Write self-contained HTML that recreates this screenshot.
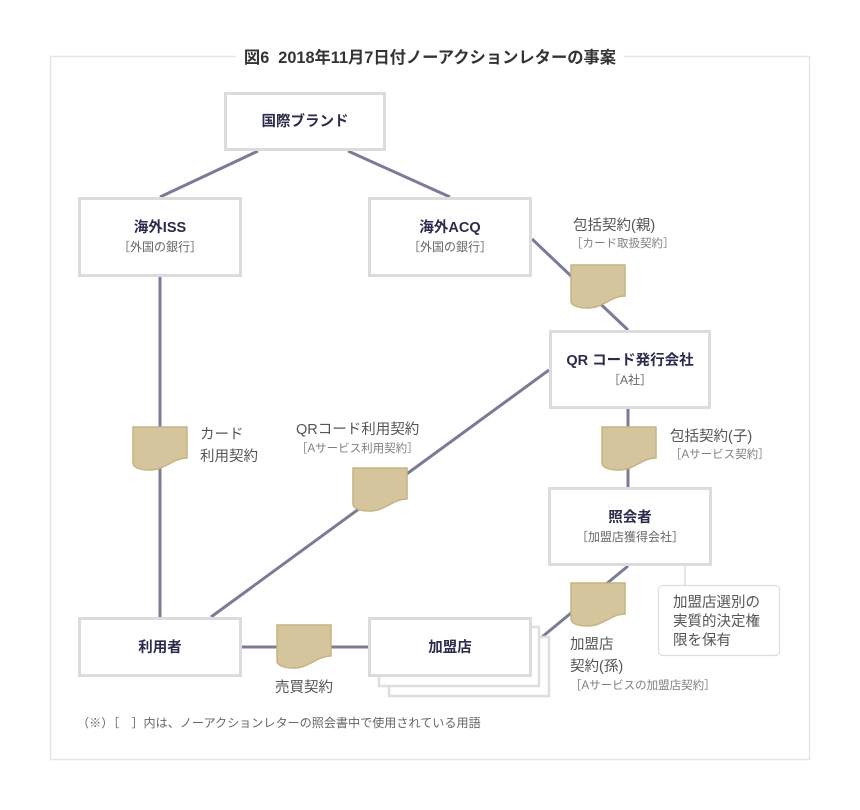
<!DOCTYPE html>
<html>
<head>
<meta charset="utf-8">
<style>
  html,body{margin:0;padding:0;background:#fff;}
  svg{display:block;}
  text{font-family:"Liberation Sans","Noto Sans CJK JP",sans-serif;}
  .bt{font-size:14.5px;font-weight:bold;fill:#2b2b4b;}
  .st{font-size:12px;fill:#666;}
  .lb{font-size:14.5px;fill:#555;}
  .ls{font-size:11.5px;fill:#808080;}
</style>
</head>
<body>
<svg width="860" height="810" viewBox="0 0 860 810" xmlns="http://www.w3.org/2000/svg">
  <defs>
    <g id="doc">
      <path d="M0,0 H54 V31 C46,31 40,35 34,38 C28,41 24,43 16,43 C6,43 0,40 0,36 Z" fill="#d4c59d" stroke="#c6b381" stroke-width="1.5"/>
    </g>
  </defs>

  <!-- outer frame -->
  <rect x="50.5" y="56.5" width="759" height="703" fill="none" stroke="#e6e6e6" stroke-width="1.5"/>
  <rect x="236" y="44" width="388" height="26" fill="#fff"/>
  <text x="430" y="58" text-anchor="middle" dominant-baseline="central" style="font-size:16.3px;font-weight:bold;fill:#333;">図6&#160;&#160;2018年11月7日付ノーアクションレターの事案</text>

  <!-- connector lines -->
  <g stroke="#7b7b98" stroke-width="3" fill="none">
    <line x1="258" y1="151" x2="160" y2="197"/>
    <line x1="348" y1="151" x2="450" y2="197"/>
    <line x1="160" y1="277" x2="160" y2="617"/>
    <line x1="532" y1="239" x2="628" y2="330"/>
    <line x1="549" y1="370" x2="211" y2="617"/>
    <line x1="628" y1="409" x2="628" y2="487"/>
    <line x1="628" y1="566" x2="542" y2="637"/>
    <line x1="242" y1="647" x2="368" y2="647"/>
  </g>

  <!-- callout connector -->
  <line x1="685" y1="566" x2="685" y2="585" stroke="#dddddd" stroke-width="1.5"/>
  <rect x="658.5" y="585.5" width="121" height="70" rx="4" fill="#fff" stroke="#dddddd" stroke-width="1.2"/>
  <text x="673" y="603" dominant-baseline="central" style="font-size:14.5px;fill:#555;">加盟店選別の</text>
  <text x="673" y="622" dominant-baseline="central" style="font-size:14.5px;fill:#555;">実質的決定権</text>
  <text x="673" y="641" dominant-baseline="central" style="font-size:14.5px;fill:#555;">限を保有</text>

  <!-- boxes -->
  <g fill="#fff" stroke="#dcdcdc" stroke-width="3">
    <rect x="225.5" y="93.5" width="159" height="56"/>
    <rect x="79.5" y="198.5" width="161" height="77"/>
    <rect x="369.5" y="198.5" width="161" height="77"/>
    <rect x="550.5" y="331.5" width="159" height="76"/>
    <rect x="549.5" y="488.5" width="161" height="76"/>
    <rect x="79.5" y="618.5" width="161" height="57"/>
  </g>
  <!-- stacked 加盟店 -->
  <g fill="#fff" stroke="#dedede" stroke-width="2.5">
    <rect x="389" y="637" width="160" height="59"/>
    <rect x="379" y="627" width="160" height="59"/>
  </g>
  <rect x="369.5" y="618.5" width="161" height="57" fill="#fff" stroke="#dcdcdc" stroke-width="3"/>

  <!-- box texts -->
  <text class="bt" x="305" y="122" text-anchor="middle" dominant-baseline="central">国際ブランド</text>
  <text class="bt" x="160" y="228" text-anchor="middle" dominant-baseline="central">海外ISS</text>
  <text class="st" x="160" y="247" text-anchor="middle" dominant-baseline="central">［外国の銀行］</text>
  <text class="bt" x="450" y="228" text-anchor="middle" dominant-baseline="central">海外ACQ</text>
  <text class="st" x="450" y="247" text-anchor="middle" dominant-baseline="central">［外国の銀行］</text>
  <text class="bt" x="630" y="361" text-anchor="middle" dominant-baseline="central">QR コード発行会社</text>
  <text class="st" x="630" y="380" text-anchor="middle" dominant-baseline="central">［A社］</text>
  <text class="bt" x="630" y="518" text-anchor="middle" dominant-baseline="central">照会者</text>
  <text class="st" x="630" y="537" text-anchor="middle" dominant-baseline="central">［加盟店獲得会社］</text>
  <text class="bt" x="160" y="648" text-anchor="middle" dominant-baseline="central">利用者</text>
  <text class="bt" x="450" y="648" text-anchor="middle" dominant-baseline="central">加盟店</text>

  <!-- document icons -->
  <use href="#doc" x="571" y="265"/>
  <use href="#doc" x="133" y="427"/>
  <use href="#doc" x="353" y="468"/>
  <use href="#doc" x="602" y="427"/>
  <use href="#doc" x="571" y="583"/>
  <use href="#doc" x="277" y="625"/>

  <!-- labels -->
  <text class="lb" x="573" y="226" dominant-baseline="central">包括契約(親)</text>
  <text class="ls" x="571" y="244" dominant-baseline="central">［カード取扱契約］</text>

  <text class="lb" x="200" y="435" dominant-baseline="central">カード</text>
  <text class="lb" x="200" y="457" dominant-baseline="central">利用契約</text>

  <text class="lb" x="296" y="430" dominant-baseline="central">QRコード利用契約</text>
  <text class="ls" x="296" y="449" dominant-baseline="central">［Aサービス利用契約］</text>

  <text class="lb" x="670" y="437" dominant-baseline="central">包括契約(子)</text>
  <text class="ls" x="670" y="455" dominant-baseline="central">［Aサービス契約］</text>

  <text class="lb" x="570" y="645" dominant-baseline="central">加盟店</text>
  <text class="lb" x="570" y="667" dominant-baseline="central">契約(孫)</text>
  <text class="ls" x="570" y="686" dominant-baseline="central">［Aサービスの加盟店契約］</text>

  <text class="lb" x="275" y="688" dominant-baseline="central">売買契約</text>

  <!-- footnote -->
  <text x="77" y="723" dominant-baseline="central" style="font-size:12.1px;fill:#666;">（※）［　］内は、ノーアクションレターの照会書中で使用されている用語</text>
</svg>
</body>
</html>
